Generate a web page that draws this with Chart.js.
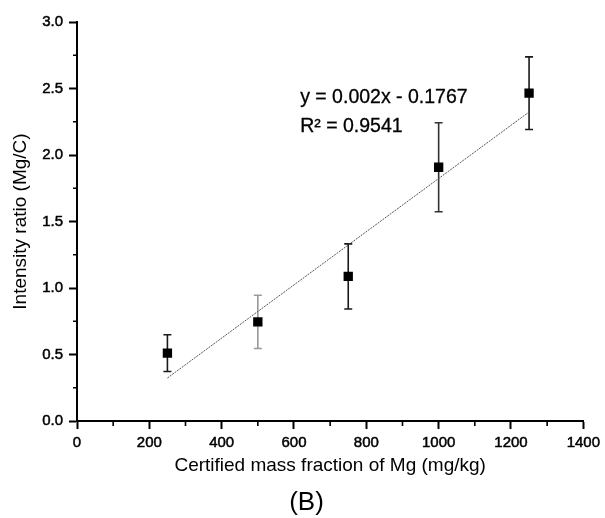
<!DOCTYPE html>
<html>
<head>
<meta charset="utf-8">
<script src="https://cdn.jsdelivr.net/npm/chart.js@4/dist/chart.umd.min.js"></script>
<style>
  html, body { margin: 0; padding: 0; background: #fff; }
  #wrap { width: 605px; height: 518px; }
</style>
</head>
<body>
<div id="wrap"><canvas id="c" width="605" height="518"></canvas></div>
<script>
// ---- data ----
const massFraction = [250, 500, 750, 1000, 1250];          // mg/kg
const intensityRatio = [0.51, 0.745, 1.087, 1.908, 2.465]; // Mg/C
const errorBar = [0.138, 0.20, 0.245, 0.335, 0.273];       // +/- error
const fitX = [250, 1250];
const fitY = [0.3233, 2.3233];                             // y = 0.002x - 0.1767
const equationLines = ['y = 0.002x - 0.1767', 'R\u00B2 = 0.9541'];
const equationAnchorX = 617;
const equationAnchorY = [2.43, 2.21];
const xTitle = 'Certified mass fraction of Mg (mg/kg)';
const yTitle = 'Intensity ratio (Mg/C)';
const panelLabel = '(B)';

const FONT = '"Liberation Sans", Arial, Helvetica, sans-serif';
const errColors = ['#1a1a1a', '#9a9a9a', '#1a1a1a', '#333333', '#1a1a1a'];

const errorBarPlugin = {
  id: 'errorBars',
  beforeDatasetsDraw(chart) {
    const {ctx, scales: {x, y}} = chart;
    ctx.save();
    ctx.lineWidth = 1.6;
    massFraction.forEach((mx, i) => {
      const px = x.getPixelForValue(mx);
      const top = y.getPixelForValue(intensityRatio[i] + errorBar[i]);
      const bot = y.getPixelForValue(intensityRatio[i] - errorBar[i]);
      ctx.strokeStyle = errColors[i];
      ctx.beginPath();
      ctx.moveTo(px, top); ctx.lineTo(px, bot);
      ctx.moveTo(px - 4, top); ctx.lineTo(px + 4, top);
      ctx.moveTo(px - 4, bot); ctx.lineTo(px + 4, bot);
      ctx.stroke();
    });
    ctx.restore();
  }
};

const minorTickPlugin = {
  id: 'minorTicks',
  afterDraw(chart) {
    const {ctx, scales: {x, y}, chartArea} = chart;
    ctx.save();
    ctx.strokeStyle = '#000';
    ctx.lineWidth = 1.6;
    ctx.beginPath();
    x.ticks.forEach(t => {
      if (t.value % 200 !== 0) {
        const px = x.getPixelForValue(t.value);
        ctx.moveTo(px, chartArea.bottom); ctx.lineTo(px, chartArea.bottom + 5);
      }
    });
    y.ticks.forEach(t => {
      const v2 = t.value * 2;
      if (Math.abs(v2 - Math.round(v2)) > 1e-6) {
        const py = y.getPixelForValue(t.value);
        ctx.moveTo(chartArea.left, py); ctx.lineTo(chartArea.left - 4, py);
      }
    });
    ctx.stroke();

    // equation annotation
    ctx.fillStyle = '#000';
    ctx.strokeStyle = '#000';
    ctx.lineWidth = 0.3;
    ctx.font = '19.5px ' + FONT;
    ctx.textAlign = 'left';
    ctx.textBaseline = 'middle';
    equationLines.forEach((s, i) => {
      const px = x.getPixelForValue(equationAnchorX);
      const py = y.getPixelForValue(equationAnchorY[i]);
      ctx.fillText(s, px, py);
      ctx.strokeText(s, px, py);
    });

    // panel label "(B)" centred under the figure
    ctx.font = '26px ' + FONT;
    ctx.textAlign = 'center';
    ctx.fillText(panelLabel, chart.width / 2 + 4, chart.height - 15);
    ctx.restore();
  }
};

const isMajorX = v => v % 200 === 0;
const isMajorY = v => Math.abs(v * 2 - Math.round(v * 2)) < 1e-6;

new Chart(document.getElementById('c'), {
  data: {
    datasets: [
      {
        type: 'line',
        label: 'fit',
        data: fitX.map((v, i) => ({x: v, y: fitY[i]})),
        borderColor: '#555',
        borderWidth: 1,
        borderDash: [2, 1],
        pointRadius: 0,
        fill: false
      },
      {
        type: 'scatter',
        label: 'data',
        data: massFraction.map((v, i) => ({x: v, y: intensityRatio[i]})),
        pointStyle: 'rect',
        pointRadius: 6.6,
        backgroundColor: '#000',
        borderColor: '#000',
        borderWidth: 0
      }
    ]
  },
  options: {
    responsive: false,
    animation: false,
    events: [],
    layout: { padding: { top: 22, right: 21, left: 0, bottom: 31.2 } },
    plugins: {
      legend: { display: false },
      tooltip: { enabled: false },
      title: { display: false }
    },
    scales: {
      x: {
        type: 'linear',
        min: 0, max: 1400,
        afterFit(s) { s.height = 65.8; },
        border: { display: true, color: '#000', width: 2 },
        grid: {
          display: true, drawOnChartArea: false, drawTicks: true,
          tickLength: 8, tickWidth: 2,
          tickColor: ctx => (ctx.tick && isMajorX(ctx.tick.value)) ? '#000' : 'rgba(0,0,0,0)'
        },
        ticks: {
          stepSize: 100, autoSkip: false, maxRotation: 0, padding: 5,
          color: '#000', font: { family: FONT, size: 15 },
          textStrokeColor: '#000', textStrokeWidth: 0.5,
          callback: v => isMajorX(v) ? String(v) : ''
        },
        title: {
          display: true, text: xTitle, color: '#000',
          font: { family: FONT, size: 19 },
          padding: { top: 0, bottom: 10 }
        }
      },
      y: {
        type: 'linear',
        min: 0, max: 3,
        afterFit(s) { s.width = 77; },
        border: { display: true, color: '#000', width: 2 },
        grid: {
          display: true, drawOnChartArea: false, drawTicks: true,
          tickLength: 8, tickWidth: 2,
          tickColor: ctx => (ctx.tick && isMajorY(ctx.tick.value)) ? '#000' : 'rgba(0,0,0,0)'
        },
        ticks: {
          stepSize: 0.25, autoSkip: false, padding: 6,
          color: '#000', font: { family: FONT, size: 15 },
          textStrokeColor: '#000', textStrokeWidth: 0.5,
          callback: v => isMajorY(v) ? v.toFixed(1) : ''
        },
        title: {
          display: true, text: yTitle, color: '#000',
          font: { family: FONT, size: 19 },
          padding: { top: 9, bottom: 0 }
        }
      }
    }
  },
  plugins: [errorBarPlugin, minorTickPlugin]
});
</script>
</body>
</html>
